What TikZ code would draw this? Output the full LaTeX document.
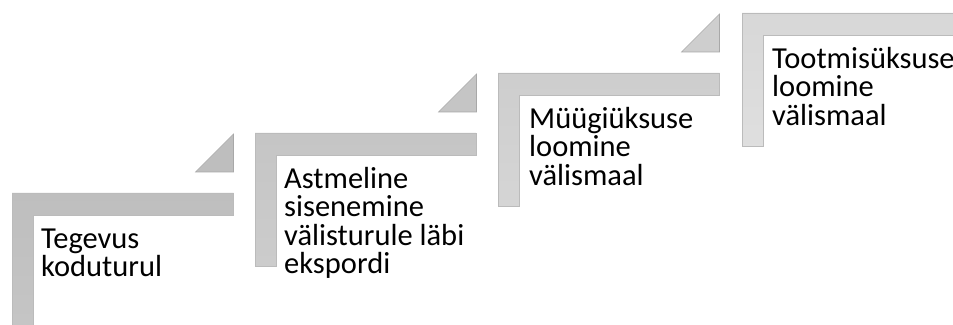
\documentclass[tikz,border=0pt]{standalone}
\usepackage{fontspec}
\setmainfont{Carlito}
\definecolor{stepA}{HTML}{C4C4C4}
\definecolor{stepB}{HTML}{CBCBCB}
\definecolor{stepC}{HTML}{D4D4D4}
\definecolor{stepD}{HTML}{DEDEDE}
\definecolor{edgegray}{HTML}{BBBBBB}
\definecolor{triedge}{HTML}{A8A8A8}
\tikzset{
  stair/.style={draw=edgegray, line width=0.6pt, line join=miter},
  notch/.style={draw=triedge, line width=0.6pt},
  steplabel/.style={anchor=north west, inner sep=0pt, align=left,
    font={\fontsize{30.5}{28.6}\selectfont}, text=black}
}
% one step: #1 = left x, #2 = top y (measured from the top edge), #3 = fill colour
\newcommand{\stairstep}[3]{%
  \path[stair, top color=#3!97!black, bottom color=#3!98!white]
    (#1,324-#2) -- ++(221.5,0) -- ++(0,-22) -- ++(-200.5,0)
    -- ++(0,-111) -- ++(-21,0) -- cycle;
  \path[notch, fill=#3!97!black]
    (#1+183.5,324-#2+21) -- ++(38,0) -- ++(0,38) -- cycle;
}
\begin{document}
\begin{tikzpicture}[x=1pt,y=1pt]
  \useasboundingbox (0,0) rectangle (953,324);
  \clip (0,0) rectangle (953,324);
  \fill[white] (0,0) rectangle (953,324);

  % four rising steps with their triangular risers
  \stairstep{12}{193}{stepA}
  \stairstep{255}{133}{stepB}
  \stairstep{498}{73}{stepC}
  \path[stair, top color=stepD!97!black, bottom color=stepD!98!white]
    (742,311) -- (963.5,311) -- ++(0,-22) -- ++(-200.5,0)
    -- ++(0,-111) -- ++(-21,0) -- cycle;

  % step captions (first baseline 25pt below the node top)
  \node[steplabel] (s1) at (41,324-248+25) {\rule{0pt}{25pt}Tegevus\\koduturul};
  \node[steplabel] (s2) at (284,324-188+25) {\rule{0pt}{25pt}Astmeline\\sisenemine\\välisturule läbi\\ekspordi};
  \node[steplabel] (s3) at (529,324-128+25) {\rule{0pt}{25pt}Müügiüksuse\\loomine\\välismaal};
  \node[steplabel] (s4) at (772,324-68+25) {\rule{0pt}{25pt}Tootmisüksuse\\loomine\\välismaal};
\end{tikzpicture}
\end{document}
